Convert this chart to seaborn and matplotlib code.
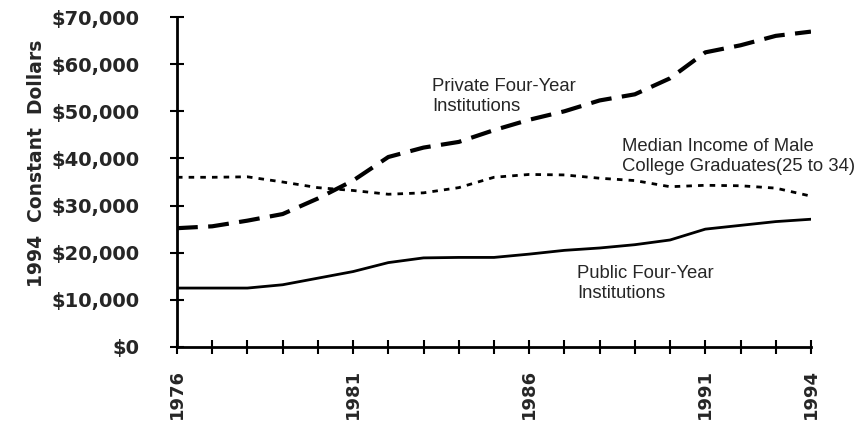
import matplotlib
matplotlib.use('agg')

import matplotlib.pyplot as plt
import matplotlib.ticker as mticker
import pandas as pd
import seaborn as sns

# Data (1994 constant dollars)
years = list(range(1976, 1995))
public_four_year = [12500, 12500, 12500, 13200, 14600, 16000, 17900, 18900, 19000, 19000,
                    19700, 20500, 21000, 21700, 22700, 25000, 25800, 26600, 27100]
private_four_year = [25200, 25600, 26800, 28200, 31500, 35300, 40300, 42300, 43500, 46000,
                     48200, 50000, 52300, 53600, 57000, 62500, 64000, 66000, 66900]
median_income = [36000, 36000, 36100, 35000, 33800, 33200, 32400, 32700, 33800, 36000,
                 36600, 36500, 35800, 35300, 34000, 34300, 34200, 33700, 32000]
year_labels = ['1976', '1981', '1986', '1991', '1994']

df = pd.DataFrame({'year': years, 'public': public_four_year,
                   'private': private_four_year, 'median': median_income})

sns.set_style('white')
plt.rcParams['font.family'] = ['DejaVu Sans']

fig = plt.figure(figsize=(8.62, 4.23), dpi=100)
ax = fig.add_axes([0.2053, 0.1797, 0.7355, 0.7801])

sns.lineplot(data=df, x='year', y='public', ax=ax, color='black', linewidth=2)
sns.lineplot(data=df, x='year', y='private', ax=ax, color='black', linewidth=3,
             linestyle=(0, (5, 2.5)))
sns.lineplot(data=df, x='year', y='median', ax=ax, color='black', linewidth=2,
             linestyle=(0, (2, 2.2)))

ax.set_xlim(1976, 1994)
ax.set_ylim(0, 70000)
ax.set_xticks(years, minor=True)
ax.set_xticks([int(y) for y in year_labels])
ax.set_xticklabels(year_labels, rotation=90, fontweight='bold', fontsize=13)
ax.set_yticks(range(0, 70001, 10000))
ax.yaxis.set_major_formatter(mticker.FuncFormatter(lambda v, p: f'${v:,.0f}'))
for lab in ax.get_yticklabels():
    lab.set_fontweight('bold')
    lab.set_fontsize(14)

ax.tick_params(axis='both', which='both', direction='inout', length=10, width=1.5,
               color='black', bottom=True, left=True)
ax.tick_params(axis='x', which='major', pad=11)
ax.tick_params(axis='y', which='major', pad=22)

for side in ['top', 'right']:
    ax.spines[side].set_visible(False)
for side in ['left', 'bottom']:
    ax.spines[side].set_linewidth(2)
    ax.spines[side].set_color('black')

ax.set_xlabel('')
ax.set_ylabel('')
fig.text(37 / 862, 1 - 163 / 423, '1994  Constant  Dollars', rotation=90,
         fontweight='bold', fontsize=13.5, ha='center', va='center')

ax.text(1983.24, 57000, 'Private Four-Year\nInstitutions', fontsize=13.3,
        family='Liberation Sans', va='top', linespacing=1.2)
ax.text(1988.63, 44300, 'Median Income of Male\nCollege Graduates(25 to 34)', fontsize=13.3,
        family='Liberation Sans', va='top', linespacing=1.2)
ax.text(1987.36, 17400, 'Public Four-Year\nInstitutions', fontsize=13.3,
        family='Liberation Sans', va='top', linespacing=1.2)

fig.savefig('out.png', dpi=100)
